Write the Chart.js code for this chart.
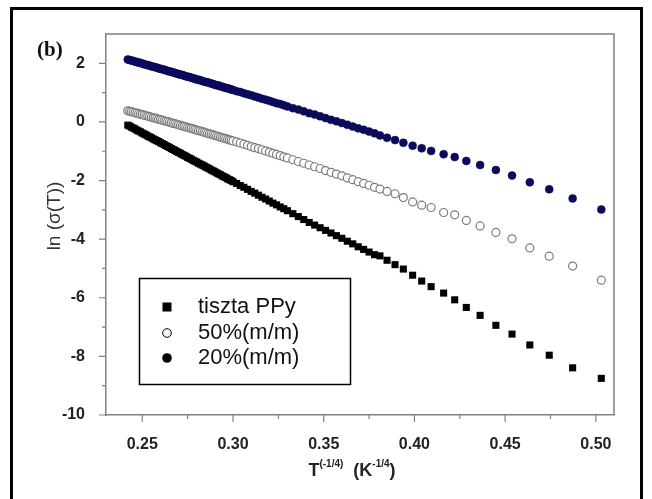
<!DOCTYPE html>
<html><head><meta charset="utf-8">
<script src="https://cdn.jsdelivr.net/npm/chart.js@4"></script>
<style>html,body{margin:0;padding:0;background:#fff;}canvas{display:block;}</style>
</head><body>
<canvas id="c" width="652" height="499"></canvas>
<script>
// T^(-1/4) values (K^-1/4)
const invT = [0.242,0.243,0.244,0.245,0.246,0.247,0.248,0.249,0.250,0.251,0.252,0.253,0.254,0.255,0.256,0.257,0.258,0.259,0.260,0.261,0.262,0.263,0.264,0.265,0.266,0.267,0.268,0.269,0.270,0.271,0.272,0.273,0.274,0.275,0.276,0.277,0.278,0.279,0.280,0.281,0.282,0.283,0.284,0.285,0.286,0.287,0.288,0.289,0.290,0.291,0.292,0.293,0.294,0.295,0.296,0.297,0.298,0.299,0.300,
0.302,0.304,0.306,0.308,0.310,0.312,0.314,0.316,0.318,0.320,0.322,0.324,0.326,0.328,0.330,0.333,0.336,0.339,0.342,0.345,0.348,0.351,0.354,0.357,0.360,0.363,0.366,0.369,0.372,0.375,0.378,
0.381,0.3849,0.3893,0.3939,0.3990,0.4040,0.4092,0.4161,0.4222,0.4286,0.4362,0.4449,0.4538,0.4636,0.4743,0.4872,0.503];
// ln(sigma(T)) – tiszta PPy
const lnPPy = [-0.11,-0.14,-0.18,-0.21,-0.24,-0.28,-0.31,-0.34,-0.38,-0.41,-0.44,-0.48,-0.51,-0.54,-0.58,-0.61,-0.64,-0.67,-0.71,-0.74,-0.77,-0.81,-0.84,-0.87,-0.91,-0.94,-0.97,-1.01,-1.04,-1.07,-1.11,-1.14,-1.17,-1.21,-1.24,-1.27,-1.31,-1.34,-1.37,-1.41,-1.44,-1.47,-1.50,-1.54,-1.57,-1.60,-1.64,-1.67,-1.70,-1.74,-1.77,-1.80,-1.84,-1.87,-1.90,-1.94,-1.97,-2.00,-2.04,
-2.10,-2.17,-2.23,-2.30,-2.37,-2.43,-2.50,-2.57,-2.63,-2.70,-2.77,-2.83,-2.90,-2.96,-3.03,-3.13,-3.23,-3.33,-3.43,-3.52,-3.61,-3.70,-3.79,-3.88,-3.97,-4.07,-4.16,-4.26,-4.35,-4.44,-4.53,
-4.57,-4.72,-4.87,-5.02,-5.23,-5.43,-5.62,-5.84,-6.07,-6.33,-6.60,-6.94,-7.24,-7.61,-7.96,-8.39,-8.75];
// ln(sigma(T)) – 50%(m/m)
const ln50 = [0.38,0.36,0.35,0.33,0.31,0.30,0.28,0.26,0.25,0.23,0.21,0.20,0.18,0.16,0.14,0.13,0.11,0.09,0.08,0.06,0.04,0.02,0.01,-0.01,-0.03,-0.05,-0.06,-0.08,-0.10,-0.12,-0.14,-0.15,-0.17,-0.19,-0.21,-0.22,-0.24,-0.26,-0.28,-0.30,-0.31,-0.33,-0.35,-0.37,-0.39,-0.41,-0.42,-0.44,-0.46,-0.48,-0.50,-0.52,-0.54,-0.55,-0.57,-0.59,-0.61,-0.63,-0.65,
-0.68,-0.72,-0.76,-0.80,-0.84,-0.88,-0.91,-0.95,-0.99,-1.03,-1.07,-1.11,-1.15,-1.19,-1.23,-1.29,-1.35,-1.41,-1.47,-1.53,-1.59,-1.66,-1.72,-1.78,-1.84,-1.91,-1.97,-2.04,-2.10,-2.16,-2.23,
-2.29,-2.37,-2.45,-2.58,-2.73,-2.84,-2.92,-3.09,-3.17,-3.36,-3.55,-3.77,-3.99,-4.30,-4.58,-4.92,-5.40];
// ln(sigma(T)) – 20%(m/m)
const ln20 = [2.13,2.11,2.10,2.08,2.06,2.04,2.03,2.01,1.99,1.97,1.95,1.94,1.92,1.90,1.88,1.87,1.85,1.83,1.81,1.80,1.78,1.76,1.74,1.72,1.71,1.69,1.67,1.65,1.63,1.62,1.60,1.58,1.56,1.54,1.53,1.51,1.49,1.47,1.45,1.44,1.42,1.40,1.38,1.36,1.35,1.33,1.31,1.29,1.27,1.25,1.24,1.22,1.20,1.18,1.16,1.15,1.13,1.11,1.09,
1.05,1.02,0.98,0.94,0.91,0.87,0.83,0.79,0.76,0.72,0.68,0.64,0.61,0.57,0.53,0.47,0.42,0.36,0.30,0.25,0.19,0.13,0.07,0.02,-0.04,-0.10,-0.16,-0.22,-0.27,-0.33,-0.39,
-0.46,-0.54,-0.62,-0.71,-0.81,-0.90,-0.99,-1.10,-1.20,-1.33,-1.47,-1.64,-1.83,-2.06,-2.30,-2.61,-2.99];
const seriesLabels = ['tiszta PPy','50%(m/m)','20%(m/m)'];
const xMajor = [0.25,0.30,0.35,0.40,0.45,0.50];
const xMinor = [0.275,0.325,0.375,0.425,0.475];
const yMajor = [-10,-8,-6,-4,-2,0,2];
const yMinor = [-9,-7,-5,-3,-1,1];

const pts = ys => invT.map((x,i)=>({x:x,y:ys[i]}));
const SANS = "'Liberation Sans', Arial, sans-serif";

const decor = {
  id:'decor',
  afterDraw(chart){
    const ctx = chart.ctx, a = chart.chartArea;
    const xs = chart.scales.x, ys = chart.scales.y;
    ctx.save();
    ctx.strokeStyle = '#808080'; ctx.lineWidth = 1.5;
    ctx.beginPath();
    ctx.moveTo(a.left, a.top); ctx.lineTo(a.right, a.top); ctx.lineTo(a.right, a.bottom);
    ctx.stroke();
    ctx.lineWidth = 1.2;
    ctx.beginPath();
    xMajor.forEach(v=>{const p=xs.getPixelForValue(v); ctx.moveTo(p,a.bottom); ctx.lineTo(p,a.bottom+7);});
    xMinor.forEach(v=>{const p=xs.getPixelForValue(v); ctx.moveTo(p,a.bottom); ctx.lineTo(p,a.bottom+4);});
    yMajor.forEach(v=>{const p=ys.getPixelForValue(v); ctx.moveTo(a.left,p); ctx.lineTo(a.left-7,p);});
    yMinor.forEach(v=>{const p=ys.getPixelForValue(v); ctx.moveTo(a.left,p); ctx.lineTo(a.left-4,p);});
    ctx.stroke();
    // panel label
    ctx.fillStyle = '#111';
    ctx.font = "bold 21px 'Liberation Serif', 'Times New Roman', serif";
    ctx.textAlign = 'left'; ctx.textBaseline = 'alphabetic';
    ctx.fillText('(b)', 37, 56);
    // y title
    ctx.save();
    ctx.translate(55, 216); ctx.rotate(-Math.PI/2);
    ctx.font = "19px " + SANS; ctx.textAlign='center'; ctx.textBaseline='middle';
    ctx.fillStyle = '#333';
    ctx.fillText('ln (σ(T))', 0, 0);
    ctx.restore();
    // x title with superscripts
    const parts = [['T',0],['(-1/4)',1],['  (K',0],['-1/4',1],[')',0]];
    const fN = "bold 18px " + SANS, fS = "bold 10px " + SANS;
    let w = 0;
    parts.forEach(p=>{ctx.font = p[1]?fS:fN; w += ctx.measureText(p[0]).width;});
    let x = 352 - w/2; const base = 476;
    ctx.textAlign='left'; ctx.textBaseline='alphabetic'; ctx.fillStyle='#222';
    parts.forEach(p=>{ctx.font = p[1]?fS:fN; ctx.fillText(p[0], x, p[1]?base-9:base); x += ctx.measureText(p[0]).width;});
    // legend
    ctx.strokeStyle = '#000'; ctx.lineWidth = 1.5;
    ctx.strokeRect(139.5, 278.5, 211, 106);
    const rows = [307, 333, 358];
    ctx.fillStyle = '#000';
    ctx.fillRect(167-4.5, rows[0]-4.5, 9, 9);
    ctx.beginPath(); ctx.arc(167, rows[1], 4.3, 0, Math.PI*2); ctx.lineWidth=1; ctx.stroke();
    ctx.beginPath(); ctx.arc(167, rows[2], 4.8, 0, Math.PI*2); ctx.fill();
    ctx.font = "22px " + SANS; ctx.fillStyle = '#111'; ctx.textBaseline='alphabetic';
    seriesLabels.forEach((t,i)=>ctx.fillText(t, 198, rows[i]+6));
    // outer frame
    ctx.strokeStyle = '#000'; ctx.lineWidth = 3;
    ctx.strokeRect(11.5, 8.5, 630, 520);
    ctx.restore();
  }
};

new Chart(document.getElementById('c'), {
  type:'scatter',
  data:{datasets:[
    {label:seriesLabels[2], data:pts(ln20), pointStyle:'circle', pointRadius:4, backgroundColor:'#0b0b5c', borderColor:'#0b0b5c', borderWidth:0.5},
    {label:seriesLabels[1], data:pts(ln50), pointStyle:'circle', pointRadius:4, backgroundColor:'#ffffff', borderColor:'#7a7a7a', borderWidth:1.2},
    {label:seriesLabels[0], data:pts(lnPPy), pointStyle:'rect', pointRadius:5, backgroundColor:'#000', borderColor:'#000', borderWidth:0}
  ]},
  options:{
    responsive:false, animation:false, devicePixelRatio:1,
    layout:{padding:{left:0,right:38,top:34,bottom:0}},
    plugins:{legend:{display:false}, tooltip:{enabled:false}},
    scales:{
      x:{type:'linear', min:0.23, max:0.51,
        grid:{display:false}, border:{display:true,color:'#808080',width:1.5},
        ticks:{stepSize:0.05, includeBounds:false, autoSkip:false, maxRotation:0, padding:12, color:'#222',
          font:{family:SANS,size:16,weight:'bold'}, callback:v=>v.toFixed(2)},
        afterFit:s=>{s.height=84;}},
      y:{type:'linear', min:-10, max:3,
        grid:{display:false}, border:{display:true,color:'#808080',width:1.5},
        ticks:{stepSize:2, includeBounds:false, autoSkip:false, padding:13, color:'#222',
          font:{family:SANS,size:16,weight:'bold'}, callback:v=>String(v)},
        afterFit:s=>{s.width=106;}}
    }
  },
  plugins:[decor]
});
</script>
</body></html>
